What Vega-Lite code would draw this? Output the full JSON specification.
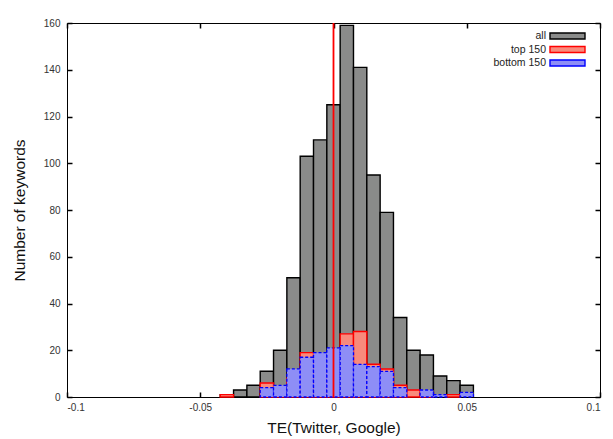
{
  "$schema": "https://vega.github.io/schema/vega-lite/v6.json",
  "width": 533,
  "height": 374,
  "autosize": "none",
  "padding": {"left": 67, "top": 23, "right": 13, "bottom": 42},
  "background": "white",
  "config": {
    "font": "Liberation Sans",
    "view": {"stroke": "black", "strokeWidth": 1},
    "axis": {
      "domain": false,
      "grid": false,
      "ticks": true,
      "tickColor": "#000000",
      "tickOpacity": 1,
      "tickWidth": 1.5,
      "tickSize": 5,
      "offset": -5,
      "zindex": 1,
      "labelFont": "Liberation Sans",
      "labelFontSize": 10,
      "labelColor": "#333333",
      "titleFont": "Liberation Sans",
      "titleFontWeight": "normal",
      "titleColor": "#111111",
      "titleFontSize": 15.5
    },
    "legend": {
      "labelFont": "Liberation Sans",
      "labelFontSize": 10.5,
      "labelColor": "#222222"
    }
  },
  "data": {
    "values": [
      {"lo": -0.0425, "hi": -0.0375, "series": "all", "count": 1},
      {"lo": -0.0375, "hi": -0.0325, "series": "all", "count": 3},
      {"lo": -0.0325, "hi": -0.0275, "series": "all", "count": 5},
      {"lo": -0.0275, "hi": -0.0225, "series": "all", "count": 11},
      {"lo": -0.0225, "hi": -0.0175, "series": "all", "count": 20},
      {"lo": -0.0175, "hi": -0.0125, "series": "all", "count": 51},
      {"lo": -0.0125, "hi": -0.0075, "series": "all", "count": 103},
      {"lo": -0.0075, "hi": -0.0025, "series": "all", "count": 110},
      {"lo": -0.0025, "hi": 0.0025, "series": "all", "count": 125},
      {"lo": 0.0025, "hi": 0.0075, "series": "all", "count": 159},
      {"lo": 0.0075, "hi": 0.0125, "series": "all", "count": 141},
      {"lo": 0.0125, "hi": 0.0175, "series": "all", "count": 95},
      {"lo": 0.0175, "hi": 0.0225, "series": "all", "count": 79},
      {"lo": 0.0225, "hi": 0.0275, "series": "all", "count": 34},
      {"lo": 0.0275, "hi": 0.0325, "series": "all", "count": 20},
      {"lo": 0.0325, "hi": 0.0375, "series": "all", "count": 18},
      {"lo": 0.0375, "hi": 0.0425, "series": "all", "count": 9},
      {"lo": 0.0425, "hi": 0.0475, "series": "all", "count": 7},
      {"lo": 0.0475, "hi": 0.0525, "series": "all", "count": 5},

      {"lo": -0.0425, "hi": -0.0375, "series": "top 150", "count": 1},
      {"lo": -0.0275, "hi": -0.0225, "series": "top 150", "count": 6},
      {"lo": -0.0225, "hi": -0.0175, "series": "top 150", "count": 4},
      {"lo": -0.0175, "hi": -0.0125, "series": "top 150", "count": 8},
      {"lo": -0.0125, "hi": -0.0075, "series": "top 150", "count": 19},
      {"lo": -0.0075, "hi": -0.0025, "series": "top 150", "count": 10},
      {"lo": -0.0025, "hi": 0.0025, "series": "top 150", "count": 10},
      {"lo": 0.0025, "hi": 0.0075, "series": "top 150", "count": 27},
      {"lo": 0.0075, "hi": 0.0125, "series": "top 150", "count": 28},
      {"lo": 0.0125, "hi": 0.0175, "series": "top 150", "count": 14},
      {"lo": 0.0175, "hi": 0.0225, "series": "top 150", "count": 12},
      {"lo": 0.0225, "hi": 0.0275, "series": "top 150", "count": 5},
      {"lo": 0.0275, "hi": 0.0325, "series": "top 150", "count": 3},
      {"lo": 0.0325, "hi": 0.0375, "series": "top 150", "count": 2},
      {"lo": 0.0425, "hi": 0.0475, "series": "top 150", "count": 1},

      {"lo": -0.0275, "hi": -0.0225, "series": "bottom 150", "count": 4},
      {"lo": -0.0225, "hi": -0.0175, "series": "bottom 150", "count": 5},
      {"lo": -0.0175, "hi": -0.0125, "series": "bottom 150", "count": 12},
      {"lo": -0.0125, "hi": -0.0075, "series": "bottom 150", "count": 17},
      {"lo": -0.0075, "hi": -0.0025, "series": "bottom 150", "count": 19},
      {"lo": -0.0025, "hi": 0.0025, "series": "bottom 150", "count": 21},
      {"lo": 0.0025, "hi": 0.0075, "series": "bottom 150", "count": 22},
      {"lo": 0.0075, "hi": 0.0125, "series": "bottom 150", "count": 14},
      {"lo": 0.0125, "hi": 0.0175, "series": "bottom 150", "count": 13},
      {"lo": 0.0175, "hi": 0.0225, "series": "bottom 150", "count": 11},
      {"lo": 0.0225, "hi": 0.0275, "series": "bottom 150", "count": 4},
      {"lo": 0.0325, "hi": 0.0375, "series": "bottom 150", "count": 3},
      {"lo": 0.0375, "hi": 0.0425, "series": "bottom 150", "count": 1},
      {"lo": 0.0475, "hi": 0.0525, "series": "bottom 150", "count": 2}
    ]
  },
  "layer": [
    {
      "transform": [{"filter": "datum.series == 'all'"}],
      "mark": {"type": "rect", "strokeWidth": 1.4},
      "encoding": {
        "x": {"field": "lo", "type": "quantitative", "scale": {"domain": [-0.1, 0.1], "nice": false},
              "axis": {"orient": "bottom", "values": [-0.1, -0.05, 0, 0.05, 0.1], "labelExpr": "'' + datum.value", "labelPadding": 5, "title": "TE(Twitter, Google)", "titlePadding": 8}},
        "x2": {"field": "hi"},
        "y": {"field": "count", "type": "quantitative", "scale": {"domain": [0, 160], "nice": false},
              "axis": {"orient": "left", "values": [0, 20, 40, 60, 80, 100, 120, 140, 160], "labelPadding": 7, "title": "Number of keywords", "titlePadding": 16}},
        "y2": {"datum": 0},
        "fill": {"field": "series", "type": "nominal", "scale": {"domain": ["all", "top 150", "bottom 150"], "range": ["#8a8b8a", "#f88a7c", "#8e8ef6"]},
                 "legend": {"title": null, "orient": "none", "legendX": 494.5, "legendY": 7, "symbolType": "M-3.5,-0.6H3.5V0.6H-3.5Z", "symbolSize": 100, "symbolStrokeWidth": 1.4, "labelAlign": "right", "labelOffset": -27.5, "rowPadding": 1.5}},
        "stroke": {"field": "series", "type": "nominal", "scale": {"domain": ["all", "top 150", "bottom 150"], "range": ["#000000", "#ff0000", "#0000ff"]},
                 "legend": {"title": null, "orient": "none", "legendX": 494.5, "legendY": 7, "symbolType": "M-3.5,-0.6H3.5V0.6H-3.5Z", "symbolSize": 100, "symbolStrokeWidth": 1.4, "labelAlign": "right", "labelOffset": -27.5, "rowPadding": 1.5}},
        "strokeDash": {"field": "series", "type": "nominal", "scale": {"domain": ["all", "top 150", "bottom 150"], "range": [[1, 0], [1, 0], [3, 2]]},
                 "legend": {"title": null, "orient": "none", "legendX": 494.5, "legendY": 7, "symbolType": "M-3.5,-0.6H3.5V0.6H-3.5Z", "symbolSize": 100, "symbolStrokeWidth": 1.4, "labelAlign": "right", "labelOffset": -27.5, "rowPadding": 1.5}}
      }
    },
    {
      "transform": [{"filter": "datum.series == 'top 150'"}],
      "mark": {"type": "rect", "strokeWidth": 1.4},
      "encoding": {
        "x": {"field": "lo", "type": "quantitative", "axis": {"orient": "top", "values": [-0.1, -0.05, 0, 0.05, 0.1], "labels": false, "title": null}},
        "x2": {"field": "hi"},
        "y": {"field": "count", "type": "quantitative", "axis": {"orient": "right", "values": [0, 20, 40, 60, 80, 100, 120, 140, 160], "labels": false, "title": null}},
        "y2": {"datum": 0},
        "fill": {"field": "series", "type": "nominal"},
        "stroke": {"field": "series", "type": "nominal"}
      }
    },
    {
      "transform": [{"filter": "datum.series == 'bottom 150'"}],
      "mark": {"type": "rect", "strokeWidth": 1.3, "strokeDash": [3, 2]},
      "encoding": {
        "x": {"field": "lo", "type": "quantitative", "axis": null},
        "x2": {"field": "hi"},
        "y": {"field": "count", "type": "quantitative", "axis": null},
        "y2": {"datum": 0},
        "fill": {"field": "series", "type": "nominal"},
        "stroke": {"field": "series", "type": "nominal"}
      }
    },
    {
      "data": {"values": [{"te": 0}]},
      "mark": {"type": "rule", "color": "#ff0000", "strokeWidth": 1.8},
      "encoding": {
        "x": {"field": "te", "type": "quantitative", "axis": null}
      }
    }
  ],
  "resolve": {"axis": {"x": "independent", "y": "independent"}}
}
